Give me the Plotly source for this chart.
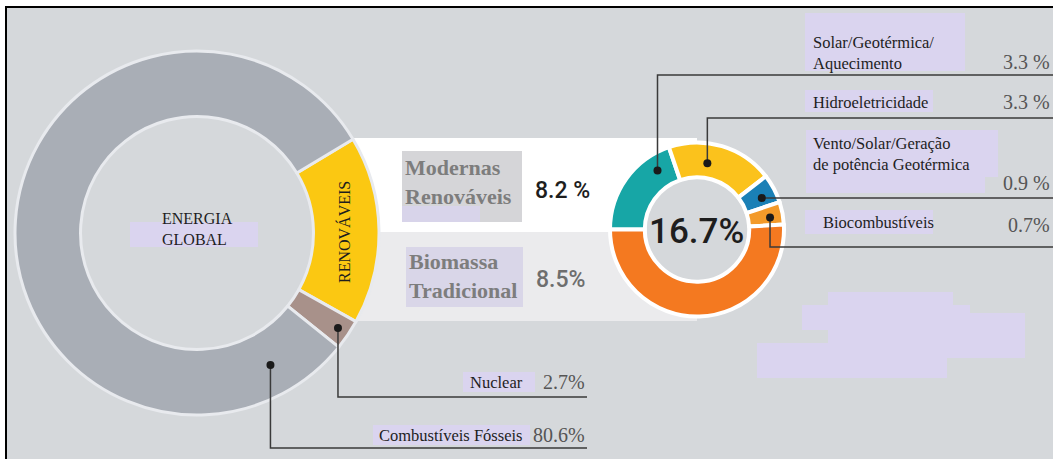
import math
import plotly.graph_objects as go

# ---------------- data ----------------
global_labels = ["Renováveis", "Nuclear", "Combustíveis Fósseis"]
global_values = [16.7, 2.7, 80.6]

renew_labels = ["Solar/Geotérmica/Aquecimento", "Hidroeletricidade",
                "Vento/Solar/Geração de potência Geotérmica", "Biocombustíveis",
                "Biomassa Tradicional"]
renew_values = [3.3, 3.3, 0.9, 0.7, 8.5]

modern_share = 8.2
traditional_share = 8.5
renew_total = 16.7

# ---------------- geometry / style ----------------
W, H = 1053, 459
BIG_C, BIG_R, BIG_HOLE, BIG_ROT = (197, 233), 182, 0.64, 59
SMA_C, SMA_R, SMA_HOLE, SMA_ROT = (697, 229.5), 87, 0.6, 270

BG = "#d5d8db"
LAV = "#dad4ef"
LINE = "#3a3a3a"
SERIF = "Liberation Serif, Times New Roman, serif"
COND = "Roboto, Liberation Sans, sans-serif"


def px(x):
    return x / W


def py(y):
    return 1 - y / H


def domain(c, r):
    return dict(x=[px(c[0] - r), px(c[0] + r)], y=[py(c[1] + r), py(c[1] - r)])


def slice_point(c, r, values, rot, idx, frac):
    tot = sum(values)
    ang = rot + 360 * (sum(values[:idx]) + frac * values[idx]) / tot
    a = math.radians(ang)
    return c[0] + r * math.sin(a), c[1] - r * math.cos(a)


fig = go.Figure()

fig.add_trace(go.Pie(
    labels=global_labels, values=global_values, sort=False, direction="clockwise",
    rotation=BIG_ROT, hole=BIG_HOLE, domain=domain(BIG_C, BIG_R),
    marker=dict(colors=["#fbc812", "#a8918a", "#a9aeb6"], line=dict(color="#e8eaee", width=3)),
    textinfo="none", hoverinfo="label+value", showlegend=False))

fig.add_trace(go.Pie(
    labels=renew_labels, values=renew_values, sort=False, direction="clockwise",
    rotation=SMA_ROT, hole=SMA_HOLE, domain=domain(SMA_C, SMA_R),
    marker=dict(colors=["#17a6a6", "#fbc21c", "#1a80b6", "#f39a2a", "#f47920"],
                line=dict(color="#ffffff", width=4)),
    textinfo="none", hoverinfo="label+value", showlegend=False))

shapes = []


def rect(x0, y0, x1, y1, color, layer="below"):
    shapes.append(dict(type="rect", xref="paper", yref="paper", x0=px(x0), x1=px(x1),
                       y0=py(y1), y1=py(y0), fillcolor=color, line=dict(width=0), layer=layer))


def seg(pts, layer="above", color=LINE, width=1.5):
    path = "M " + " L ".join(f"{px(x)},{py(y)}" for x, y in pts)
    shapes.append(dict(type="path", xref="paper", yref="paper", path=path,
                       line=dict(color=color, width=width), layer=layer))


def dot(x, y, r=4):
    shapes.append(dict(type="circle", xref="paper", yref="paper",
                       x0=px(x - r), x1=px(x + r), y0=py(y + r), y1=py(y - r),
                       fillcolor="#1a1a1a", line=dict(width=0), layer="above"))


# frame + background
rect(7, 8, W, H, BG)
seg([(6, H), (6, 7), (W, 7)], layer="below", color="#000000", width=2)

# bands linking both donuts
rect(350, 138, SMA_C[0], 232, "#ffffff")
rect(350, 232, SMA_C[0], 321, "#ebebed")
# gray hole of small donut
hr = SMA_R * SMA_HOLE
shapes.append(dict(type="circle", xref="paper", yref="paper",
                   x0=px(SMA_C[0] - hr), x1=px(SMA_C[0] + hr),
                   y0=py(SMA_C[1] + hr), y1=py(SMA_C[1] - hr),
                   fillcolor=BG, line=dict(width=0), layer="below"))

# label backgrounds
rect(130, 222, 258, 247, LAV)
rect(402, 151, 522, 222, "#d5d5d8")
rect(402, 206, 480, 222, "#d8d4ea")
rect(406, 247, 523, 307, "#d9d6e8")
rect(463, 372, 535, 392, LAV)
rect(373, 425, 530, 445, LAV)
rect(805, 13, 965, 71, LAV)
rect(805, 90, 933, 112, LAV)
rect(806, 130, 998, 177, LAV)
rect(806, 177, 985, 193, LAV)
rect(805, 210, 933, 234, LAV)
# faint lavender blob (lower right)
rect(828, 292, 953, 307, LAV)
rect(802, 305, 970, 330, LAV)
rect(828, 313, 1025, 358, LAV)
rect(757, 343, 947, 378, LAV)

# leader lines and dots
nx, ny = slice_point(BIG_C, 170, global_values, BIG_ROT, 1, 0.5)
fx, fy = slice_point(BIG_C, 151, global_values, BIG_ROT, 2, 0.076)
seg([(nx, ny), (nx, 397), (587, 397)])
seg([(fx, fy), (fx, 448), (587, 448)])
dot(nx, ny)
dot(fx, fy)

tx, ty = slice_point(SMA_C, 71, renew_values, SMA_ROT, 0, 0.79)
yx, yy = slice_point(SMA_C, 67, renew_values, SMA_ROT, 1, 0.39)
bx, by = slice_point(SMA_C, 72, renew_values, SMA_ROT, 2, 0.61)
ox, oy = slice_point(SMA_C, 74, renew_values, SMA_ROT, 3, 0.6)
seg([(tx, ty), (tx, 75), (W, 75)])
seg([(yx, yy), (yx, 118), (W, 118)])
seg([(bx, by), (W, by)])
seg([(ox, oy), (ox, 247), (W, 247)])
for x, y in [(tx, ty), (yx, yy), (bx, by), (ox, oy)]:
    dot(x, y)

ann = []


def text(x, y, s, size, color="#1e1e1e", font=SERIF, xanchor="left", angle=0,
         align="left", weight="normal"):
    ann.append(dict(x=px(x), y=py(y), xref="paper", yref="paper", text=s, showarrow=False,
                    xanchor=xanchor, yanchor="middle", textangle=angle, align=align,
                    font=dict(family=font, size=size, color=color, weight=weight)))


def pct(v, sp=""):
    return f"{v:.1f}{sp}%"


text(160, 229, "ENERGIA<br>GLOBAL", 16)
text(344, 232, "RENOVÁVEIS", 16, xanchor="center", angle=-90)

text(403, 182, "<b>Modernas<br>Renováveis</b>", 22, color="#7d7d7d", align="left")
text(533, 191, pct(modern_share, " "), 23, color="#1e1e1e", font=COND, weight=500)
text(407, 276, "<b>Biomassa<br>Tradicional</b>", 22, color="#7d7d7d", align="left")
text(534, 279, pct(traditional_share), 23, color="#6e6e6e", font=COND, weight=500)
text(SMA_C[0] - 1, 231, pct(renew_total), 35, color="#1e1e1e", font=COND,
     xanchor="center", weight=500)

text(525, 382, "Nuclear", 16.5, xanchor="right")
text(587, 382, pct(global_values[1]), 20, color="#555555", xanchor="right")
text(524, 435, "Combustíveis Fósseis", 16.5, xanchor="right")
text(587, 435, pct(global_values[2]), 20, color="#555555", xanchor="right")

text(811, 53, "Solar/Geotérmica/<br>Aquecimento", 16.5, align="left")
text(W - 1, 62, pct(renew_values[0], " "), 20, color="#555555", xanchor="right")
text(811, 102, "Hidroeletricidade", 16.5)
text(W - 1, 102, pct(renew_values[1], " "), 20, color="#555555", xanchor="right")
text(811, 154, "Vento/Solar/Geração<br>de potência Geotérmica", 16.5, align="left")
text(W - 1, 183, pct(renew_values[2], " "), 20, color="#555555", xanchor="right")
text(821, 222, "Biocombustíveis", 16.5)
text(W - 1, 225, pct(renew_values[3]), 20, color="#555555", xanchor="right")

fig.update_layout(width=W, height=H, margin=dict(l=0, r=0, t=0, b=0),
                  paper_bgcolor="#ffffff", plot_bgcolor="#ffffff",
                  shapes=shapes, annotations=ann, showlegend=False)

fig.write_html("out.html", config={"displayModeBar": False},
               post_script="document.body.style.margin='0px';document.body.style.overflow='hidden';")
